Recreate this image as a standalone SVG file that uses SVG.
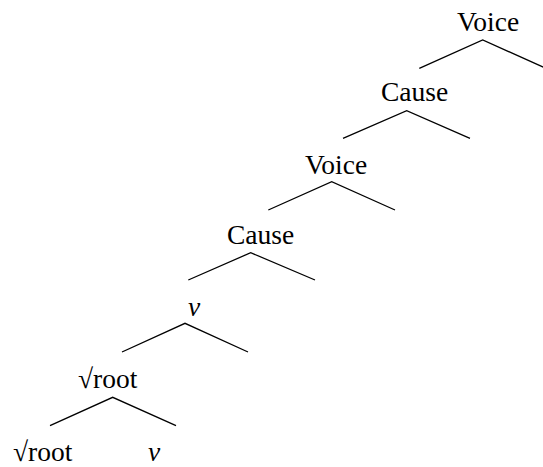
<svg xmlns="http://www.w3.org/2000/svg" width="543" height="467" viewBox="0 0 543 467">
<style>
text{font-family:"Liberation Serif","Times New Roman",serif;font-size:27.5px;fill:#000}
.it{font-style:italic}
.e{stroke:#000;stroke-width:1.3;fill:none}
</style>
<rect width="543" height="467" fill="#fff"/>
<g id="connectors">
<polyline class="e" points="419.3,68.3 482.7,40 546,68.3"/>
<polyline class="e" points="343,138.3 406.7,110.7 470,138.3"/>
<polyline class="e" points="268.3,210 331.7,181.7 395,210"/>
<polyline class="e" points="188.3,280 250.7,252.7 315,280"/>
<polyline class="e" points="122,352 185,323.3 248,352"/>
<polyline class="e" points="50,425.7 112.7,397.3 176,425.7"/>
</g>
<g id="n-voice2"><text x="457" y="30.5">Voice</text></g>
<g id="n-cause2"><text x="381" y="100.5">Cause</text></g>
<g id="n-voice1"><text x="305" y="173.5">Voice</text></g>
<g id="n-cause1"><text x="227" y="243.5">Cause</text></g>
<g id="n-v1"><text class="it" x="188" y="315.5">v</text></g>
<g id="n-root1"><text x="78" y="387.5">√root</text></g>
<g id="n-root0"><text x="13" y="461">√root</text></g>
<g id="n-v0"><text class="it" x="148" y="461">v</text></g>
</svg>
